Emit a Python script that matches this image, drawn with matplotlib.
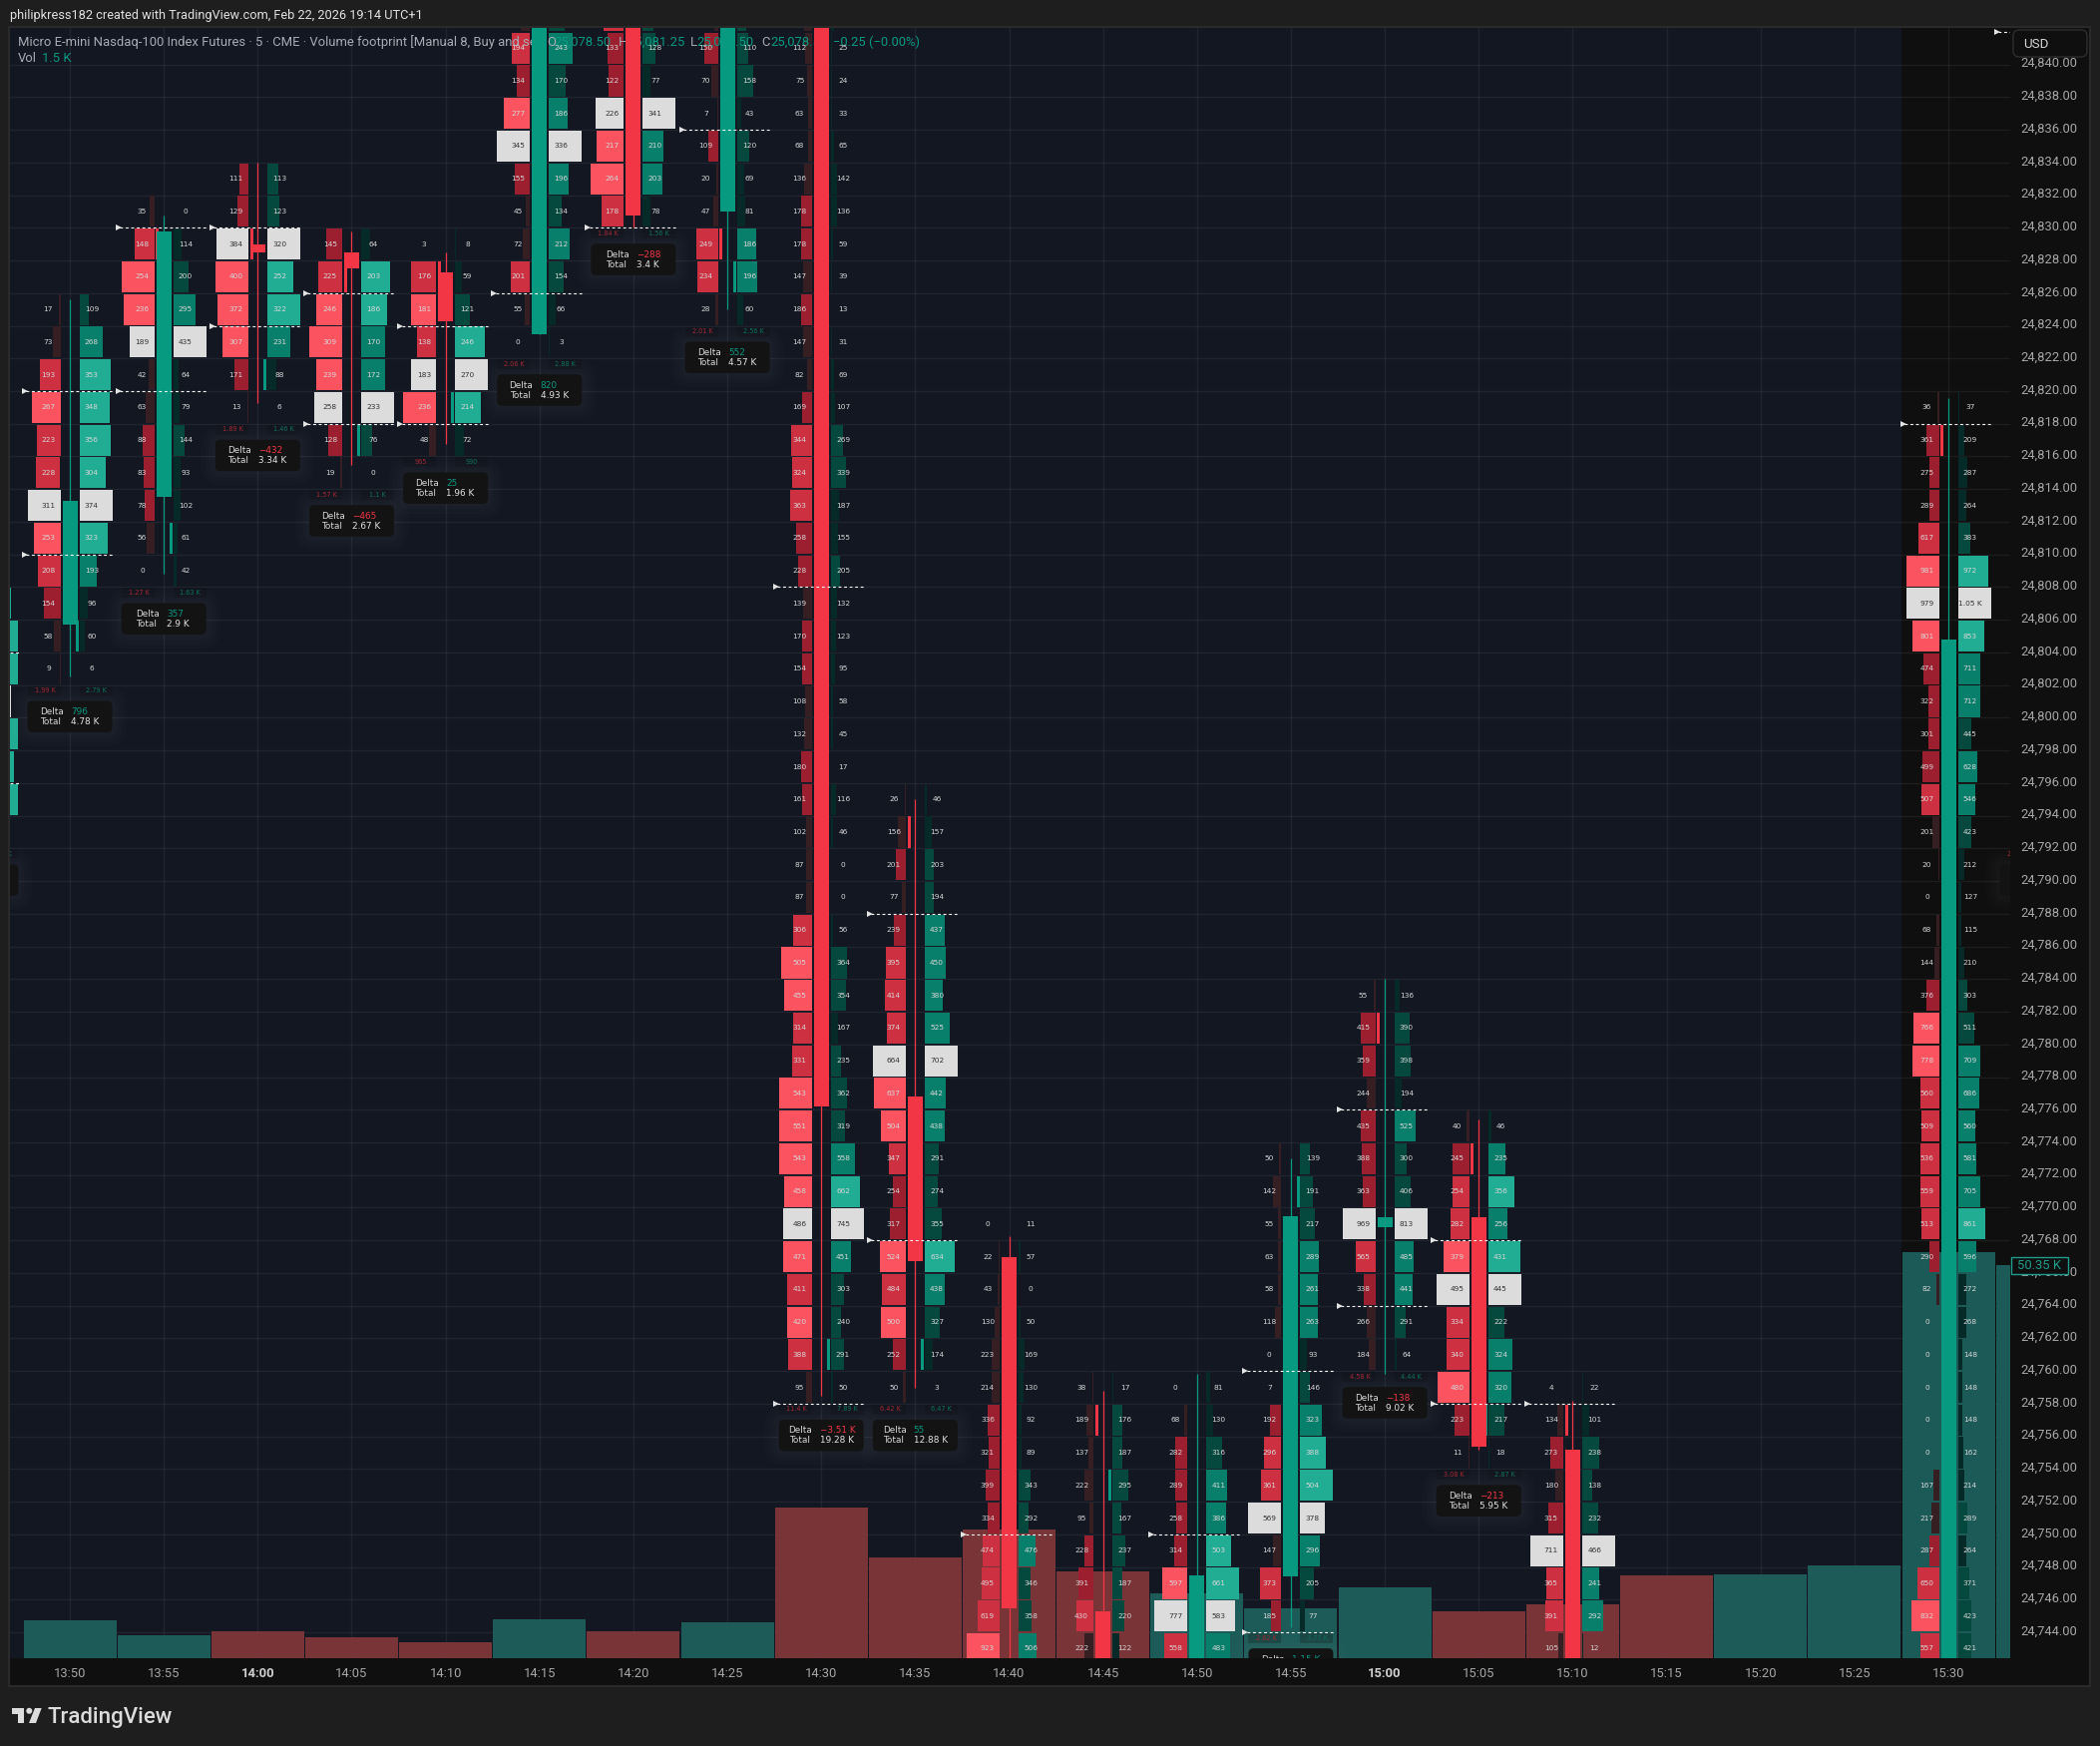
import numpy as np
import matplotlib as mpl
mpl.use('Agg')
import matplotlib.pyplot as plt
import matplotlib.patches as mpatches
import matplotlib.transforms as mtrans

plt.rcParams['font.family'] = ['Roboto', 'DejaVu Sans']

# bar -1 and 21 are the two bars cut off at the left / right edge
bar_ids = list(range(-1, 22))
tick_labels = ['13:50', '13:55', '14:00', '14:05', '14:10', '14:15', '14:20', '14:25', '14:30', '14:35', '14:40',
               '14:45', '14:50', '14:55', '15:00', '15:05', '15:10', '15:15', '15:20', '15:25', '15:30']
price_ticks = list(range(24744, 24842, 2))

# centre price of the first row of every bar
top_price = [24807, 24825, 24831, 24833, 24829, 24829, 24843, 24843, 24845, 24843, 24795, 24769, 24759, 24759, 24773,
             24783, 24775, 24759, 0, 0, 0, 24819, 24791]

bids = [
    [200, 200, 210, 400, 200, 180, 190, 90],
    [17, 73, 193, 267, 223, 228, 311, 253, 208, 154, 58, 9],
    [35, 148, 254, 236, 189, 42, 63, 88, 83, 78, 56, 0],
    [111, 129, 384, 400, 372, 307, 171, 13],
    [145, 225, 246, 309, 239, 258, 128, 19],
    [3, 176, 181, 138, 183, 236, 48],
    [94, 194, 134, 277, 345, 155, 45, 72, 201, 55, 0],
    [160, 133, 122, 226, 217, 264, 178],
    [373, 45, 150, 70, 7, 109, 20, 47, 249, 234, 28],
    [133, 112, 75, 63, 68, 136, 178, 178, 147, 186, 147, 82, 169, 344, 324, 363, 258, 228, 139, 170, 154, 108, 132,
     180, 161, 102, 87, 87, 306, 505, 455, 314, 331, 543, 551, 543, 458, 486, 471, 411, 420, 388, 95],
    [26, 156, 201, 77, 239, 395, 414, 374, 664, 637, 504, 347, 254, 317, 524, 484, 500, 252, 50],
    [0, 22, 43, 130, 223, 214, 336, 321, 399, 334, 474, 495, 619, 923, 900],
    [38, 189, 137, 222, 95, 228, 391, 430, 222, 825],
    [0, 68, 282, 289, 258, 314, 597, 777, 558],
    [50, 142, 55, 63, 58, 118, 0, 7, 192, 296, 361, 569, 147, 373, 185],
    [55, 415, 359, 244, 435, 388, 363, 969, 565, 338, 266, 184],
    [40, 245, 254, 282, 379, 495, 334, 340, 480, 223, 11],
    [4, 134, 273, 180, 315, 711, 365, 391, 105],
    [], [], [],
    [36, 361, 275, 289, 617, 981, 979, 801, 474, 322, 301, 499, 507, 201, 20, 0, 68, 144, 376, 766, 778, 560, 509,
     536, 559, 513, 290, 82, 0, 0, 0, 0, 0, 167, 217, 287, 650, 832, 557],
    [],
]
asks = [
    [310, 390, 400, 310, 390, 345, 400, 100],
    [109, 268, 353, 348, 356, 304, 374, 323, 193, 96, 60, 6],
    [0, 114, 200, 295, 435, 64, 79, 144, 93, 102, 61, 42],
    [113, 123, 320, 252, 322, 231, 88, 6],
    [64, 203, 186, 170, 172, 233, 76, 0],
    [8, 59, 121, 246, 270, 214, 72],
    [163, 243, 170, 186, 336, 196, 134, 212, 154, 66, 3],
    [110, 128, 77, 341, 210, 203, 78],
    [323, 95, 110, 158, 43, 120, 69, 81, 186, 196, 60],
    [70, 25, 24, 33, 65, 142, 136, 59, 39, 13, 31, 69, 107, 269, 339, 187, 155, 205, 132, 123, 95, 58, 45, 17, 116,
     46, 0, 0, 56, 364, 354, 167, 235, 362, 319, 558, 662, 745, 451, 303, 240, 291, 50],
    [46, 157, 203, 194, 437, 450, 380, 525, 702, 442, 438, 291, 274, 355, 634, 438, 327, 174, 3],
    [11, 57, 0, 50, 169, 130, 92, 89, 343, 292, 476, 346, 358, 506, 925],
    [17, 176, 187, 295, 167, 237, 187, 220, 122, 605],
    [81, 130, 316, 411, 386, 503, 661, 583, 483],
    [139, 191, 217, 289, 261, 263, 93, 146, 323, 388, 504, 378, 296, 205, 77],
    [136, 390, 398, 194, 525, 300, 406, 813, 485, 441, 291, 64],
    [46, 235, 356, 256, 431, 445, 222, 324, 320, 217, 18],
    [22, 101, 238, 138, 232, 466, 241, 292, 12],
    [], [], [],
    [37, 209, 287, 264, 383, 972, 1050, 853, 711, 712, 445, 628, 546, 423, 212, 127, 115, 210, 303, 511, 709, 686,
     560, 581, 705, 861, 596, 272, 268, 148, 148, 148, 162, 214, 289, 264, 371, 423, 421],
    [],
]

bid_totals = [None, '1.99 K', '1.27 K', '1.89 K', '1.57 K', '965', '2.06 K', '1.84 K', '2.01 K', '11.4 K', '6.42 K',
              None, None, None, '2.62 K', '4.58 K', '3.08 K', None, None, None, None, None, '22.3 K']
ask_totals = ['1.55 K', '2.79 K', '1.63 K', '1.46 K', '1.1 K', '990', '2.88 K', '1.56 K', '2.56 K', '7.89 K', '6.47 K',
              None, None, None, '3.77 K', '4.44 K', '2.87 K', None, None, None, None, None, None]
deltas = ['', '796', '357', '\u2212432', '\u2212465', '25', '820', '\u2212288', '552', '\u22123.51 K', '55',
          None, None, None, '1.15 K', '\u2212138', '\u2212213', None, None, None, None, None, '']
totals = ['', '4.78 K', '2.9 K', '3.34 K', '2.67 K', '1.96 K', '4.93 K', '3.4 K', '4.57 K', '19.28 K', '12.88 K',
          None, None, None, '6.39 K', '9.02 K', '5.95 K', None, None, None, None, None, '']

# candles, values above / below the visible range are guessed
nan = float('nan')
opens = [nan, 24805.7, 24813.5, 24829, 24828.5, 24827.25, 24823.5, 24850, 24831, 24850, 24776.8, 24767, 24745.3,
         24740, 24747.4, 24768.8, 24769.4, 24755.2, nan, nan, nan, 24730, nan]
closes = [nan, 24813.3, 24829.75, 24828.5, 24827.5, 24824.25, 24850, 24830.75, 24850, 24776.2, 24766.75, 24745.5,
          24738, 24747.5, 24769.5, 24769.4, 24755.4, 24738, nan, nan, nan, 24804.8, nan]
highs = [nan, 24825.6, 24830.75, 24834, 24829.75, 24828.5, 24852, 24855, 24855, 24855, 24795, 24768.25, 24758.8,
         24759.8, 24773, 24784, 24775.4, 24758.2, nan, nan, nan, 24819.6, nan]
lows = [nan, 24802.5, 24808.8, 24819.25, 24815.5, 24816.75, 24823.5, 24830, 24825, 24758.5, 24759, 24740, 24735,
        24735, 24744.3, 24759.8, 24755.2, 24735, nan, nan, nan, 24725, nan]

# volume in thousands
vol_k = [0, 4.78, 2.9, 3.34, 2.67, 1.96, 4.93, 3.4, 4.57, 19.28, 12.88, 16.4, 11.1, 8.2, 6.39, 9.02, 5.95, 6.9, 10.6,
         10.7, 11.9, 52.1, 50.35]
vol_up = [1, 1, 1, 0, 0, 0, 1, 0, 1, 0, 0, 0, 0, 1, 1, 1, 0, 0, 0, 1, 1, 1, 1]

# value area lines
va_bars = [-1, -1, 0, 0, 1, 1, 2, 2, 3, 3, 4, 4, 5, 6, 7, 8, 8, 9, 9, 10, 12, 13, 13, 14, 14, 15, 15, 16, 20, 21]
va_prices = [24804, 24796, 24820, 24810, 24830, 24820, 24830, 24824, 24826, 24818, 24824, 24818, 24826, 24830, 24836,
             24808, 24758, 24788, 24768, 24750, 24750, 24760, 24744, 24776, 24764, 24768, 24758, 24758, 24818, 24842]

# small slices next to the candle
mark_bars = [0, 1, 1, 2, 2, 3, 3, 4, 4, 7, 7, 8, 9, 9, 11, 11, 13, 14, 15, 15, 16, 20]
mark_prices = [24805, 24811, 24829, 24829, 24821, 24827, 24817, 24827, 24819, 24829, 24827, 24761, 24793, 24761, 24757,
               24753, 24771, 24781, 24773, 24757, 24757, 24817]
mark_up = [1, 1, 0, 0, 1, 0, 1, 0, 1, 0, 1, 1, 0, 1, 0, 1, 1, 0, 0, 1, 0, 0]

BID_COLS = ['#361f22', '#9b1f2e', '#cd3040', '#fc5360']
ASK_COLS = ['#052a27', '#05483d', '#087f6b', '#21ad94']
UP = '#089981'
DOWN = '#f23645'
POC = '#dcdcdc'

W, H = 2105, 1750
PX = 94.15  # pixels per bar
PY = 16.37  # pixels per point
X0 = 70.0
Y20 = 392.0
CELL = 33.0
GAP = 9.5


def shade(value, vmax, cols):
    r = value / vmax if vmax else 0
    if r >= 0.75:
        return cols[3]
    if r >= 0.512:
        return cols[2]
    if r >= 0.275:
        return cols[1]
    return cols[0]


fig = plt.figure(figsize=(W / 100, H / 100), dpi=100, facecolor='#1e1e1e')

# frame, header and logo in pixel coordinates
bg = fig.add_axes([0, 0, 1, 1], zorder=0)
bg.set_xlim(0, W)
bg.set_ylim(H, 0)
bg.axis('off')
bg.add_patch(mpatches.Rectangle((9, 27), 2086, 1663, fc='#0f0f0f', ec='#2a2a2a', lw=1.5))
bg.text(10, 15, 'philipkress182 created with TradingView.com, Feb 22, 2026 19:14 UTC+1', color='#e0e0e0',
        fontsize=9.2, va='center', ha='left')
bg.add_patch(mpatches.Polygon([(12, 1712), (24.3, 1712), (24.3, 1727), (18, 1727), (18, 1718), (12, 1718)], fc='#dcdcdc'))
bg.add_patch(mpatches.Circle((29.3, 1714.8), 3, fc='#dcdcdc'))
bg.add_patch(mpatches.Polygon([(35, 1712), (41.7, 1712), (36, 1727), (29, 1727)], fc='#dcdcdc'))
bg.text(48, 1722, 'TradingView', color='#dcdcdc', fontsize=16, fontweight='medium', va='center', ha='left')

ax = fig.add_axes([10 / W, (H - 1661.5) / H, 2005 / W, (1661.5 - 28) / H], zorder=1)
xmin, xmax = (10 - X0) / PX, (2015 - X0) / PX
ymin, ymax = 24820 - (1661.5 - Y20) / PY, 24820 + (Y20 - 28) / PY
ax.set_xlim(xmin, xmax)
ax.set_ylim(ymin, ymax)
ax.set_facecolor('#131722')
ax.axvspan(19.5 + 0.5 / PX, xmax, color='#0f0f0f', lw=0, zorder=0.1)
for s in ax.spines.values():
    s.set_visible(False)

ax.set_axisbelow(True)
ax.grid(True, color='white', alpha=0.06, lw=1)
ax.yaxis.tick_right()
ax.set_yticks(price_ticks)
ax.set_yticklabels(['{:,.2f}'.format(p) for p in price_ticks])
ax.set_xticks(range(len(tick_labels)))
ax.set_xticklabels(tick_labels)
ax.tick_params(axis='y', length=0, pad=7.2, labelsize=9.4, labelcolor='#a6a6a6')
ax.tick_params(axis='x', length=0, pad=7, labelsize=9.4, labelcolor='#a6a6a6')
for lab in ax.get_xticklabels():
    if lab.get_text().endswith(':00'):
        lab.set_fontweight('bold')
        lab.set_color('#d0d0d0')
# price labels sit a little above their grid line
for lab in ax.get_yticklabels():
    lab.set_transform(lab.get_transform() + mtrans.Affine2D().translate(0, 2.5))

to_disp = ax.transData.transform
identity = mtrans.IdentityTransform()
pix = mtrans.Affine2D().scale(1, -1).translate(0, H)

# volume
price_per_k = 7.81 / PY
for i, v, up in zip(bar_ids, vol_k, vol_up):
    ax.bar(i, v * price_per_k, bottom=ymin, width=93 / PX, color='#1d5f5c' if up else '#7f363a', zorder=1, alpha=0.95)

# footprint cells
for n, i in enumerate(bar_ids):
    bs, aks = bids[n], asks[n]
    if not bs:
        continue
    bmax, amax = max(bs), max(aks)
    poc = int(np.argmax(np.array(bs) + np.array(aks)))
    for r, (b, a) in enumerate(zip(bs, aks)):
        p = top_price[n] - 2 * r
        bw, aw = b / bmax * CELL, a / amax * CELL
        ax.barh(p, bw / PX, height=1.9, left=i - (GAP + bw) / PX,
                color=POC if r == poc else shade(b, bmax, BID_COLS), zorder=3)
        ax.barh(p, aw / PX, height=1.9, left=i + GAP / PX,
                color=POC if r == poc else shade(a, amax, ASK_COLS), zorder=3)
        tc = '#333333' if r == poc else '#d6d6d6'
        ax.text(i - 21.6 / PX, p, str(b), color=tc, fontsize=5.3, family='DejaVu Sans', ha='center', va='center',
                zorder=5.5, clip_on=True)
        atxt = '{:.2f} K'.format(a / 1000) if a >= 1000 else str(a)
        ax.text(i + 21.8 / PX, p, atxt, color=tc, fontsize=5.3, family='DejaVu Sans', ha='center', va='center',
                zorder=5.5, clip_on=True)

for i, p, up in zip(mark_bars, mark_prices, mark_up):
    if up:
        ax.barh(p, 3 / PX, height=1.9, left=i + 5.6 / PX, color=UP, zorder=3.5)
    else:
        ax.barh(p, 3 / PX, height=1.9, left=i - 7.8 / PX, color=DOWN, zorder=3.5)

# legend sits above the cells but below the candles
LEG = '#a8abb3'
ax.text(18, 42.5, 'Micro E-mini Nasdaq-100 Index Futures \u00b7 5 \u00b7 CME \u00b7 Volume footprint [Manual 8, Buy and sell]',
        transform=pix, color=LEG, fontsize=9.4, va='center', zorder=4.5)
for x, s, c in [(548, 'O', LEG), (555, '25,078.50', UP), (620, 'H', LEG), (629, '25,081.25', UP), (692, 'L', LEG),
                (698, '25,078.50', UP), (763, 'C', LEG), (772, '25,078.50', UP), (835, '\u22120.25 (\u22120.00%)', UP),
                (18, 'Vol', LEG), (42, '1.5 K', UP)]:
    ax.text(x, 59 if s in ('Vol', '1.5 K') else 42.5, s, transform=pix, color=c, fontsize=9.4, va='center', zorder=4.5)

# candles
for i, o, h, l, c in zip(bar_ids, opens, highs, lows, closes):
    if np.isnan(o):
        continue
    col = UP if c >= o else DOWN
    ax.vlines(i, l, h, color=col, lw=0.9, zorder=5)
    ax.bar(i, max(abs(c - o), 0.5), bottom=min(o, c), width=15 / PX, color=col, zorder=5)

# value area lines
for i, p in zip(va_bars, va_prices):
    ax.hlines(p, i - 44 / PX, i + 43 / PX, colors='white', lw=0.8, linestyles=(0, (2.5, 2.5)), zorder=6)
    ax.plot([i - 45.5 / PX], [p], marker='>', ms=3.8, color='#e4e4e4', mew=0, zorder=6, clip_on=True)

# totals under each bar + delta box
for n, i in enumerate(bar_ids):
    if totals[n] is None:
        continue
    floor = top_price[n] + 1 - 2 * len(bids[n])
    xd, yd = to_disp((i, floor))
    if bid_totals[n]:
        ax.add_patch(mpatches.Rectangle((xd - 42.5, yd - 11), 33, 10, transform=identity, fc='#0f0f0f', alpha=0.3,
                                        lw=0, zorder=6))
        ax.text(xd - 25, yd - 5.5, bid_totals[n], transform=identity, color='#a32531', fontsize=4.7,
                family='DejaVu Sans', ha='center', va='center', zorder=6.5, clip_on=True)
    if ask_totals[n]:
        ax.add_patch(mpatches.Rectangle((xd + 9.5, yd - 11), 33, 10, transform=identity, fc='#0f0f0f', alpha=0.3,
                                        lw=0, zorder=6))
        ax.text(xd + 26, yd - 5.5, ask_totals[n], transform=identity, color='#0b6f5e', fontsize=4.7,
                family='DejaVu Sans', ha='center', va='center', zorder=6.5, clip_on=True)
    bx, by, bw, bh = xd - 42.5, yd - 47.5, 85, 31.5
    for grow in (14, 10, 6, 3):
        ax.add_patch(mpatches.FancyBboxPatch((bx - grow, by - grow), bw + 2 * grow, bh + 2 * grow,
                                             boxstyle='round,pad=0,rounding_size=%d' % (5 + grow), transform=identity,
                                             fc='white', alpha=0.012, lw=0, zorder=6.8))
    ax.add_patch(mpatches.FancyBboxPatch((bx, by), bw, bh, boxstyle='round,pad=0,rounding_size=5', transform=identity,
                                         fc='#131313', lw=0, zorder=7))
    if totals[n]:
        w = 31 + len(totals[n]) * 4.9
        lx = xd - w / 2
        dcol = DOWN if deltas[n].startswith('\u2212') else UP
        ax.text(lx, by + bh - 11, 'Delta', transform=identity, color='#d8d8d8', fontsize=6.4, family='DejaVu Sans',
                va='center', zorder=7.5, clip_on=True)
        ax.text(lx + 31, by + bh - 11, deltas[n], transform=identity, color=dcol, fontsize=6.4, family='DejaVu Sans',
                va='center', zorder=7.5, clip_on=True)
        ax.text(lx, by + bh - 21, 'Total', transform=identity, color='#d8d8d8', fontsize=6.4, family='DejaVu Sans',
                va='center', zorder=7.5, clip_on=True)
        ax.text(lx + 31, by + bh - 21, totals[n], transform=identity, color='#e4e4e4', fontsize=6.4,
                family='DejaVu Sans', va='center', zorder=7.5, clip_on=True)

# price scale widgets
ax.add_patch(mpatches.FancyBboxPatch((2018, 30), 74, 27, boxstyle='round,pad=0,rounding_size=6', transform=pix,
                                     fc='#0f0f0f', ec='#2e2e2e', lw=1, zorder=20, clip_on=False))
ax.text(2028, 44, 'USD', transform=pix, color='#d6d6d6', fontsize=9.6, va='center', zorder=21, clip_on=False)
vol_y = 1661.5 - vol_k[-1] * 7.81
ax.add_patch(mpatches.Rectangle((2016, vol_y - 8), 57, 17, transform=pix, fc='#0f0f0f', ec='#1f9c8a', lw=1, zorder=20,
                                clip_on=False))
ax.text(2044.5, vol_y + 0.5, '50.35 K', transform=pix, color='#1f9c8a', fontsize=9.4, ha='center', va='center', zorder=21,
        clip_on=False)

plt.savefig('out.png', dpi=100, facecolor=fig.get_facecolor())
plt.close()
